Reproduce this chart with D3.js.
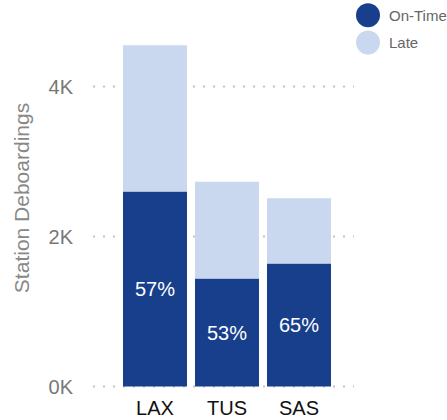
<!DOCTYPE html>
<html>
<head>
<meta charset="utf-8">
<script src="https://cdn.jsdelivr.net/npm/d3@7"></script>
<style>
  html, body { margin: 0; padding: 0; background: #fff; }
  svg { display: block; font-family: "Liberation Sans", Arial, sans-serif; }
</style>
</head>
<body>
<svg id="chart" width="447" height="420"></svg>
<script>
// ---- data ----
const categories = ["LAX", "TUS", "SAS"];
const onTime = [2600, 1440, 1640];
const late = [1950, 1290, 870];
const seriesNames = ["On-Time", "Late"];
const yTicks = [0, 2000, 4000];
const yTickLabels = ["0K", "2K", "4K"];
const yTitle = "Station Deboardings";

// ---- style ----
const colors = { "On-Time": "#173F8B", "Late": "#C9D8EF" };

const svg = d3.select("#chart");

const y = d3.scaleLinear().domain([0, 4000]).range([386.5, 86.5]);
const x = d3.scaleBand().domain(categories).range([123, 331]).paddingInner(1 / 9).paddingOuter(0);

const rows = categories.map((c, i) => ({ cat: c, "On-Time": onTime[i], "Late": late[i] }));
const stacked = d3.stack().keys(seriesNames)(rows);

// gridlines (dotted)
const grid = svg.append("g");
yTicks.forEach(t => {
  grid.append("line")
    .attr("x1", 93).attr("x2", 354)
    .attr("y1", y(t)).attr("y2", y(t))
    .attr("stroke", "#c4c4c4")
    .attr("stroke-width", 2)
    .attr("stroke-dasharray", "2,8");
});

// bars
stacked.forEach(layer => {
  svg.append("g").selectAll("rect")
    .data(layer)
    .join("rect")
    .attr("x", d => x(d.data.cat))
    .attr("width", x.bandwidth())
    .attr("y", d => y(d[1]))
    .attr("height", d => y(d[0]) - y(d[1]))
    .attr("fill", colors[layer.key]);
});

// percentage labels
svg.append("g").selectAll("text")
  .data(rows)
  .join("text")
  .attr("x", d => x(d.cat) + x.bandwidth() / 2)
  .attr("y", d => (y(0) + y(d["On-Time"])) / 2)
  .attr("dy", "0.35em")
  .attr("text-anchor", "middle")
  .attr("fill", "#fff")
  .attr("font-size", 20)
  .text(d => Math.round(100 * d["On-Time"] / (d["On-Time"] + d["Late"])) + "%");

// y tick labels
svg.append("g").selectAll("text")
  .data(yTicks)
  .join("text")
  .attr("x", 73)
  .attr("y", d => y(d))
  .attr("dy", "0.35em")
  .attr("text-anchor", "end")
  .attr("fill", "#777")
  .attr("font-size", 20)
  .text((d, i) => yTickLabels[i]);

// x labels
svg.append("g").selectAll("text")
  .data(categories)
  .join("text")
  .attr("x", d => x(d) + x.bandwidth() / 2)
  .attr("y", 415)
  .attr("text-anchor", "middle")
  .attr("fill", "#111")
  .attr("font-size", 20)
  .text(d => d);

// y title
svg.append("text")
  .attr("transform", "translate(29,198) rotate(-90)")
  .attr("text-anchor", "middle")
  .attr("fill", "#888")
  .attr("font-size", 21)
  .text(yTitle);

// legend
const legend = svg.append("g");
seriesNames.forEach((s, i) => {
  const cy = 15.3 + i * 27.3;
  legend.append("circle").attr("cx", 368).attr("cy", cy).attr("r", 12).attr("fill", colors[s]);
  legend.append("text")
    .attr("x", 389).attr("y", cy)
    .attr("dy", "0.35em")
    .attr("fill", "#666")
    .attr("font-size", 15)
    .text(s);
});
</script>
</body>
</html>
